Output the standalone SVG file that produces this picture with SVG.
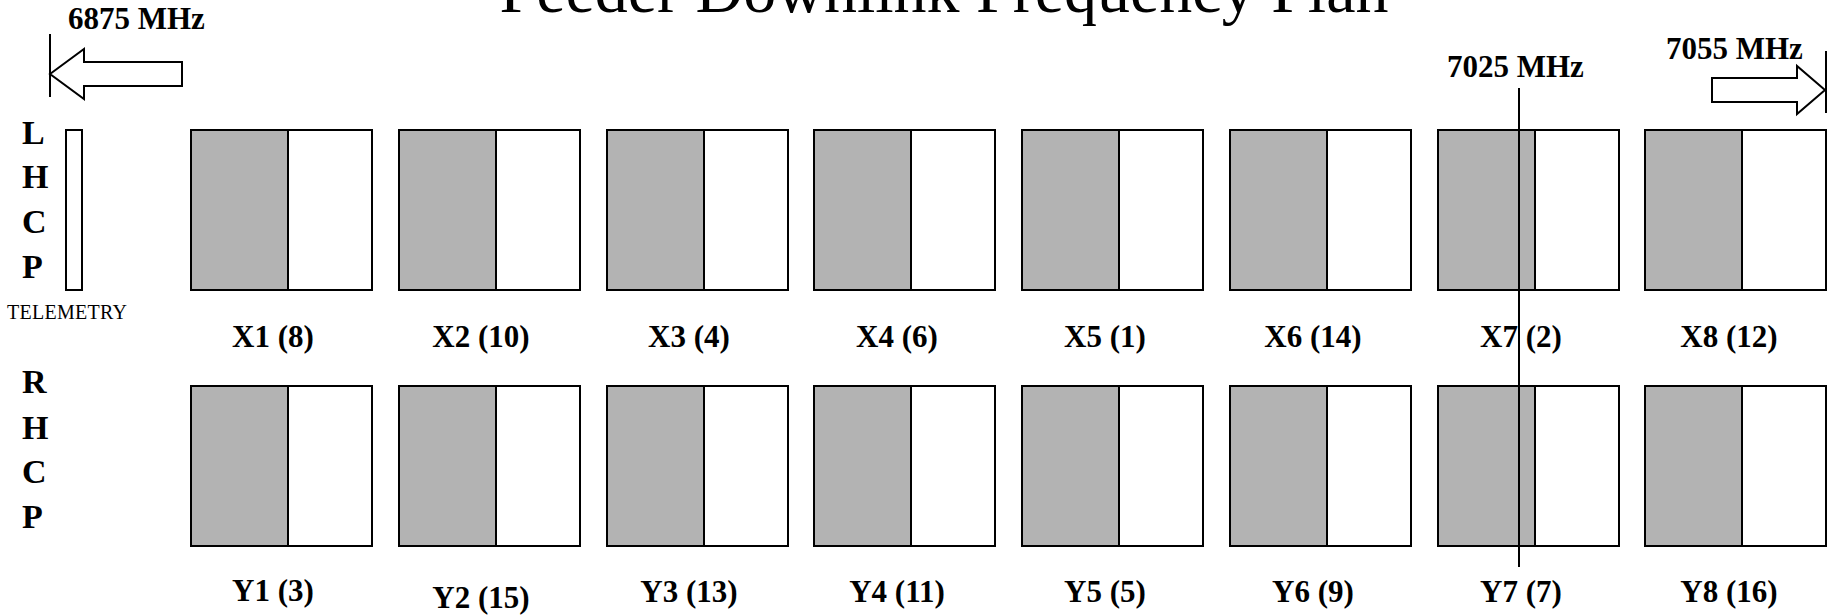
<svg xmlns="http://www.w3.org/2000/svg" width="1833" height="615" viewBox="0 0 1833 615">
<style>
.t{font-family:"Liberation Serif","Times New Roman",serif;fill:#000}
.b{font-weight:bold;font-size:31px}
.p{font-weight:bold;font-size:34px}
.lbl{font-weight:bold;font-size:31px;text-anchor:middle}
.g{fill:#b3b3b3;stroke:none}
.w{fill:#fff;stroke:none}
.o{fill:none;stroke:#000;stroke-width:2}
.ln{stroke:#000;stroke-width:2;fill:none}
</style>
<defs>
<g id="box">
<rect class="w" x="0" y="0" width="181" height="160"/>
<rect class="g" x="0" y="0" width="97" height="160"/>
<line class="ln" x1="97" y1="0" x2="97" y2="160"/>
<rect class="o" x="0" y="0" width="181" height="160"/>
</g>
</defs>
<rect width="1833" height="615" fill="#fff"/>
<text class="t" x="944" y="12" font-size="66" text-anchor="middle">Feeder Downlink Frequency Plan</text>

<g id="edge-left">
<line class="ln" x1="50" y1="34" x2="50" y2="97"/>
<polygon class="o" fill="#fff" points="50,74 84,49 84,62 182,62 182,86 84,86 84,99"/>
<text class="t b" x="68" y="29">6875 MHz</text>
</g>
<g id="edge-right">
<line class="ln" x1="1826" y1="51" x2="1826" y2="113"/>
<polygon class="o" points="1825,90 1797,66 1797,78 1712,78 1712,102 1797,102 1797,114"/>
<text class="t b" x="1666" y="59">7055 MHz</text>
</g>

<g id="pol-labels">
<text class="t p" x="22" y="144">L</text>
<text class="t p" x="22" y="188">H</text>
<text class="t p" x="22" y="233">C</text>
<text class="t p" x="22" y="278">P</text>
<text class="t p" x="22" y="393">R</text>
<text class="t p" x="22" y="439">H</text>
<text class="t p" x="22" y="483">C</text>
<text class="t p" x="22" y="528">P</text>
</g>

<g id="telemetry">
<rect class="o" fill="#fff" x="66" y="130" width="16" height="160"/>
<text class="t" x="7" y="319" font-size="20" textLength="120">TELEMETRY</text>
</g>

<g id="X1"><use href="#box" x="191" y="130"/><text class="t lbl" x="273" y="347">X1 (8)</text></g>
<g id="X2"><use href="#box" x="399" y="130"/><text class="t lbl" x="481" y="347">X2 (10)</text></g>
<g id="X3"><use href="#box" x="607" y="130"/><text class="t lbl" x="689" y="347">X3 (4)</text></g>
<g id="X4"><use href="#box" x="814" y="130"/><text class="t lbl" x="897" y="347">X4 (6)</text></g>
<g id="X5"><use href="#box" x="1022" y="130"/><text class="t lbl" x="1105" y="347">X5 (1)</text></g>
<g id="X6"><use href="#box" x="1230" y="130"/><text class="t lbl" x="1313" y="347">X6 (14)</text></g>
<g id="X7"><use href="#box" x="1438" y="130"/><text class="t lbl" x="1521" y="347">X7 (2)</text></g>
<g id="X8"><use href="#box" x="1645" y="130"/><text class="t lbl" x="1729" y="347">X8 (12)</text></g>

<g id="Y1"><use href="#box" x="191" y="386"/><text class="t lbl" x="273" y="601">Y1 (3)</text></g>
<g id="Y2"><use href="#box" x="399" y="386"/><text class="t lbl" x="481" y="608">Y2 (15)</text></g>
<g id="Y3"><use href="#box" x="607" y="386"/><text class="t lbl" x="689" y="602">Y3 (13)</text></g>
<g id="Y4"><use href="#box" x="814" y="386"/><text class="t lbl" x="897" y="602">Y4 (11)</text></g>
<g id="Y5"><use href="#box" x="1022" y="386"/><text class="t lbl" x="1105" y="602">Y5 (5)</text></g>
<g id="Y6"><use href="#box" x="1230" y="386"/><text class="t lbl" x="1313" y="602">Y6 (9)</text></g>
<g id="Y7"><use href="#box" x="1438" y="386"/><text class="t lbl" x="1521" y="602">Y7 (7)</text></g>
<g id="Y8"><use href="#box" x="1645" y="386"/><text class="t lbl" x="1729" y="602">Y8 (16)</text></g>

<g id="connectors">
<line class="ln" x1="1519" y1="88" x2="1519" y2="567"/>
<text class="t b" x="1447" y="77">7025 MHz</text>
</g>
</svg>
